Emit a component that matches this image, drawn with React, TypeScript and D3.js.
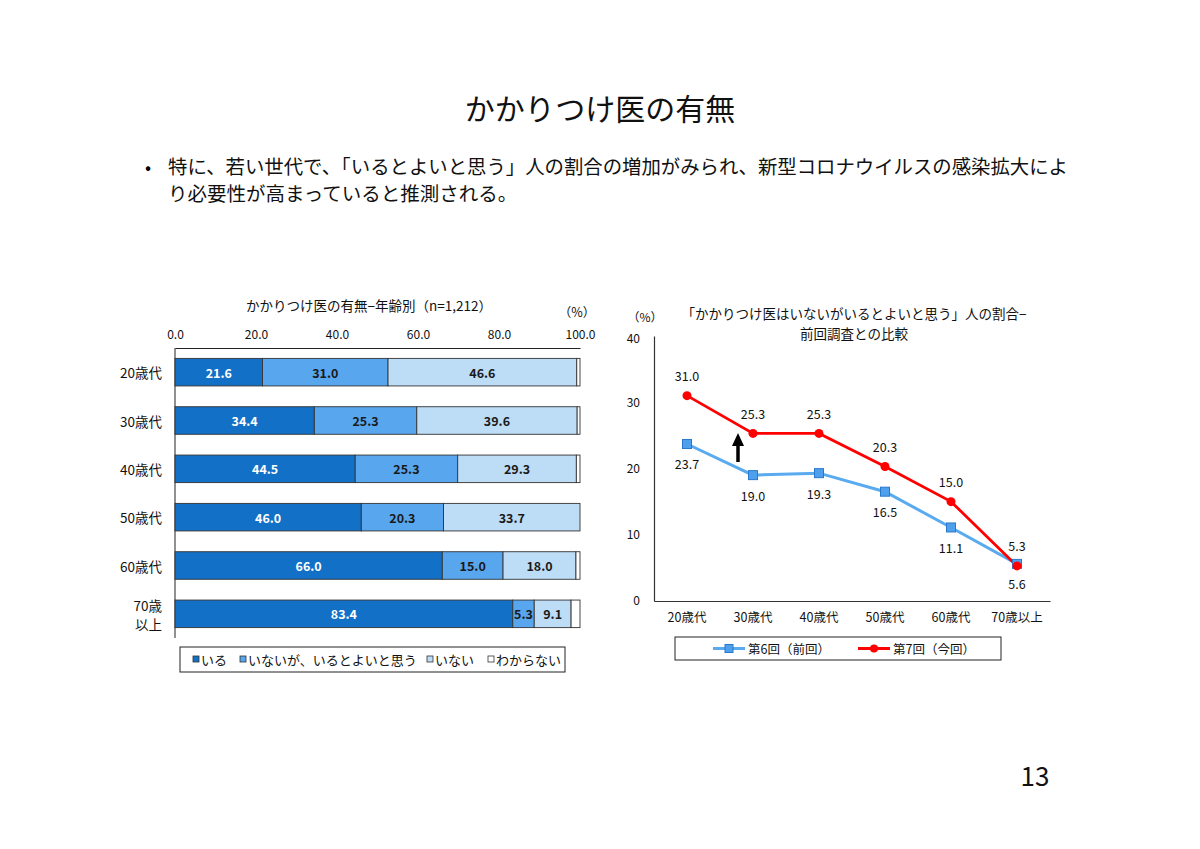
import { useEffect, useRef } from "react";
import * as d3 from "d3";

const ages = ["20歳代", "30歳代", "40歳代", "50歳代", "60歳代", "70歳以上"];
const segmentKeys = ["いる", "いないが、いるとよいと思う", "いない", "わからない"];
const iru = [21.6, 34.4, 44.5, 46.0, 66.0, 83.4];
const inaigaIruto = [31.0, 25.3, 25.3, 20.3, 15.0, 5.3];
const inai = [46.6, 39.6, 29.3, 33.7, 18.0, 9.1];
const wakaranai = [0.8, 0.7, 0.9, 0.0, 1.0, 2.2];
const barTicks = [0, 20, 40, 60, 80, 100];

const lineAges = ["20歳代", "30歳代", "40歳代", "50歳代", "60歳代", "70歳以上"];
const round6 = [23.7, 19.0, 19.3, 16.5, 11.1, 5.6];
const round7 = [31.0, 25.3, 25.3, 20.3, 15.0, 5.3];
const lineTicks = [0, 10, 20, 30, 40];

const segColors = ["#1270c6", "#58a6ee", "#bddcf6", "#ffffff"];
const FONT = "'Noto Sans CJK JP', 'Noto Sans', sans-serif";

function App() {
  const svgRef = useRef<SVGSVGElement>(null);

  useEffect(() => {
    if (!svgRef.current) return;
    const svg = d3.select(svgRef.current);
    svg.selectAll("*").remove();
    svg.style("font-family", FONT);

    // page text
    svg.append("text").attr("x", 600).attr("y", 107).attr("text-anchor", "middle")
      .attr("dominant-baseline", "central").attr("font-size", 30).attr("fill", "#111")
      .text("かかりつけ医の有無");
    svg.append("text").attr("x", 148).attr("y", 166).attr("text-anchor", "middle")
      .attr("dominant-baseline", "central").attr("font-size", 18).text("•");
    svg.append("text").attr("x", 168).attr("y", 165).attr("dominant-baseline", "central")
      .attr("font-size", 19.5).attr("fill", "#111")
      .attr("textLength", 900).attr("lengthAdjust", "spacingAndGlyphs")
      .text("特に、若い世代で、「いるとよいと思う」人の割合の増加がみられ、新型コロナウイルスの感染拡大によ");
    svg.append("text").attr("x", 168).attr("y", 192).attr("dominant-baseline", "central")
      .attr("font-size", 19.5).attr("fill", "#111")
      .text("り必要性が高まっていると推測される。");
    svg.append("text").attr("x", 1035).attr("y", 774).attr("text-anchor", "middle")
      .attr("dominant-baseline", "central").attr("font-size", 26).attr("fill", "#111")
      .text("13");

    // ---------- stacked bar chart ----------
    const x = d3.scaleLinear().domain([0, 100]).range([175, 580]);
    const y = d3.scaleBand<string>().domain(ages).range([348, 638])
      .paddingInner(0.43).paddingOuter(0.215);

    const table = ages.map((a, i) => ({
      age: a,
      [segmentKeys[0]]: iru[i],
      [segmentKeys[1]]: inaigaIruto[i],
      [segmentKeys[2]]: inai[i],
      [segmentKeys[3]]: wakaranai[i],
    })) as any[];
    const stacked = d3.stack<any>().keys(segmentKeys)(table);

    const left = svg.append("g");
    left.append("text").attr("x", 369).attr("y", 305).attr("text-anchor", "middle")
      .attr("dominant-baseline", "central").attr("font-size", 13.5).attr("fill", "#111")
      .text("かかりつけ医の有無−年齢別（n=1,212）");
    left.append("text").attr("x", 577).attr("y", 311).attr("text-anchor", "middle")
      .attr("dominant-baseline", "central").attr("font-size", 12.5).attr("fill", "#111")
      .text("（%）");

    const topAxis = left.append("g").attr("transform", "translate(0,348)")
      .call(d3.axisTop(x).tickValues(barTicks).tickSize(0).tickPadding(9)
        .tickFormat((d) => d3.format(".1f")(d as number)));
    topAxis.select(".domain").attr("stroke", "#222").attr("stroke-width", 1);
    topAxis.selectAll("text").attr("font-size", 12).attr("fill", "#111")
      .style("font-family", FONT);

    left.append("line").attr("x1", 175).attr("x2", 175).attr("y1", 348).attr("y2", 638)
      .attr("stroke", "#222");

    stacked.forEach((s, si) => {
      const g = left.append("g");
      g.selectAll("rect").data(s).enter().append("rect")
        .attr("x", (d) => x(d[0]))
        .attr("y", (d) => y(d.data.age) as number)
        .attr("width", (d) => x(d[1]) - x(d[0]))
        .attr("height", y.bandwidth())
        .attr("fill", segColors[si])
        .attr("stroke", "#333").attr("stroke-width", 0.9);
      if (si < 3) {
        g.selectAll("text").data(s).enter().append("text")
          .attr("x", (d) => (x(d[0]) + x(d[1])) / 2)
          .attr("y", (d) => (y(d.data.age) as number) + y.bandwidth() / 2)
          .attr("text-anchor", "middle").attr("dominant-baseline", "central")
          .attr("font-size", 12.5).attr("font-weight", "bold")
          .attr("fill", si === 0 ? "#ffffff" : "#1a1a1a")
          .text((d) => (d[1] - d[0]).toFixed(1));
      }
    });

    ages.forEach((a) => {
      const cy = (y(a) as number) + y.bandwidth() / 2;
      if (a === "70歳以上") {
        [["70歳", -9], ["以上", 10]].forEach(([t, dy]) => {
          left.append("text").attr("x", 162).attr("y", cy + (dy as number))
            .attr("text-anchor", "end").attr("dominant-baseline", "central")
            .attr("font-size", 13.5).attr("fill", "#111").text(t as string);
        });
      } else {
        left.append("text").attr("x", 162).attr("y", cy).attr("text-anchor", "end")
          .attr("dominant-baseline", "central").attr("font-size", 13.5).attr("fill", "#111")
          .text(a);
      }
    });

    // legend
    left.append("rect").attr("x", 180).attr("y", 647).attr("width", 385).attr("height", 25)
      .attr("fill", "#fff").attr("stroke", "#222");
    const legPos = [[193, 201], [240, 248], [427, 435], [488, 496]];
    segmentKeys.forEach((k, i) => {
      left.append("rect").attr("x", legPos[i][0]).attr("y", 656).attr("width", 6).attr("height", 6)
        .attr("fill", segColors[i]).attr("stroke", "#333").attr("stroke-width", 0.8);
      left.append("text").attr("x", legPos[i][1]).attr("y", 659.5)
        .attr("dominant-baseline", "central").attr("font-size", 13).attr("fill", "#111").text(k);
    });

    // ---------- line chart ----------
    const xr = d3.scaleBand<string>().domain(lineAges).range([654, 1050]);
    const yr = d3.scaleLinear().domain([0, 40]).range([601, 336]);
    const cx = (a: string) => (xr(a) as number) + xr.bandwidth() / 2;
    const right = svg.append("g");

    right.append("text").attr("x", 854).attr("y", 313).attr("text-anchor", "middle")
      .attr("dominant-baseline", "central").attr("font-size", 13.5).attr("fill", "#111")
      .text("「かかりつけ医はいないがいるとよいと思う」人の割合−");
    right.append("text").attr("x", 854).attr("y", 333).attr("text-anchor", "middle")
      .attr("dominant-baseline", "central").attr("font-size", 13.5).attr("fill", "#111")
      .text("前回調査との比較");
    right.append("text").attr("x", 645).attr("y", 316).attr("text-anchor", "middle")
      .attr("dominant-baseline", "central").attr("font-size", 12).attr("fill", "#111")
      .text("（%）");

    const yAxis = right.append("g").attr("transform", "translate(654,0)")
      .call(d3.axisLeft(yr).tickValues(lineTicks).tickSize(0).tickPadding(14));
    yAxis.select(".domain").attr("stroke", "#333").attr("stroke-width", 1.2);
    yAxis.selectAll("text").attr("font-size", 12).attr("fill", "#111").style("font-family", FONT);
    yAxis.selectAll<SVGGElement, number>(".tick").filter((d) => d === 40)
      .select("text").attr("dy", "0.5em");

    const xAxis = right.append("g").attr("transform", "translate(0,601)")
      .call(d3.axisBottom(xr).tickSize(0).tickPadding(12));
    xAxis.select(".domain").attr("stroke", "#333").attr("stroke-width", 1.2);
    xAxis.selectAll("text").attr("font-size", 12.5).attr("fill", "#111").style("font-family", FONT);

    const line = d3.line<number>().x((_, i) => cx(lineAges[i])).y((d) => yr(d));

    right.append("path").datum(round6).attr("d", line).attr("fill", "none")
      .attr("stroke", "#5aaaf0").attr("stroke-width", 3);
    right.append("path").datum(round7).attr("d", line).attr("fill", "none")
      .attr("stroke", "#ff0000").attr("stroke-width", 2.8);

    right.selectAll(".sq").data(round6).enter().append("rect")
      .attr("x", (_, i) => cx(lineAges[i]) - 4.5).attr("y", (d) => yr(d) - 4.5)
      .attr("width", 9).attr("height", 9).attr("fill", "#4fa0ec")
      .attr("stroke", "#2a78cc").attr("stroke-width", 1);
    right.selectAll(".ci").data(round7).enter().append("circle")
      .attr("cx", (_, i) => cx(lineAges[i])).attr("cy", (d) => yr(d)).attr("r", 4.5)
      .attr("fill", "#ff0000");

    right.selectAll(".l6").data(round6).enter().append("text")
      .attr("x", (_, i) => cx(lineAges[i])).attr("y", (d) => yr(d) + 20)
      .attr("text-anchor", "middle").attr("dominant-baseline", "central")
      .attr("font-size", 12.5).attr("fill", "#111").text((d) => d.toFixed(1));
    right.selectAll(".l7").data(round7).enter().append("text")
      .attr("x", (_, i) => cx(lineAges[i])).attr("y", (d) => yr(d) - 20)
      .attr("text-anchor", "middle").attr("dominant-baseline", "central")
      .attr("font-size", 12.5).attr("fill", "#111").text((d) => d.toFixed(1));

    // arrow annotation
    const ax = cx("30歳代") - 15;
    right.append("line").attr("x1", ax).attr("x2", ax).attr("y1", 462).attr("y2", 443)
      .attr("stroke", "#000").attr("stroke-width", 3.5);
    right.append("path").attr("d", `M${ax - 6},446 L${ax},433 L${ax + 6},446 Z`).attr("fill", "#000");

    // legend
    right.append("rect").attr("x", 675).attr("y", 637).attr("width", 326).attr("height", 23)
      .attr("fill", "#fff").attr("stroke", "#222");
    right.append("line").attr("x1", 713).attr("x2", 745).attr("y1", 648.5).attr("y2", 648.5)
      .attr("stroke", "#5aaaf0").attr("stroke-width", 3);
    right.append("rect").attr("x", 725).attr("y", 644.5).attr("width", 8).attr("height", 8)
      .attr("fill", "#4fa0ec").attr("stroke", "#2a78cc");
    right.append("text").attr("x", 748).attr("y", 648.5).attr("dominant-baseline", "central")
      .attr("font-size", 12.5).attr("fill", "#111").text("第6回（前回）");
    right.append("line").attr("x1", 858).attr("x2", 890).attr("y1", 648.5).attr("y2", 648.5)
      .attr("stroke", "#ff0000").attr("stroke-width", 3);
    right.append("circle").attr("cx", 874).attr("cy", 648.5).attr("r", 4).attr("fill", "#ff0000");
    right.append("text").attr("x", 893).attr("y", 648.5).attr("dominant-baseline", "central")
      .attr("font-size", 12.5).attr("fill", "#111").text("第7回（今回）");
  }, []);

  return (
    <div style={{ position: "absolute", left: 0, top: 0 }}>
      <svg ref={svgRef} width={1200} height={849} style={{ display: "block", background: "#fff" }} />
    </div>
  );
}

export default App;
